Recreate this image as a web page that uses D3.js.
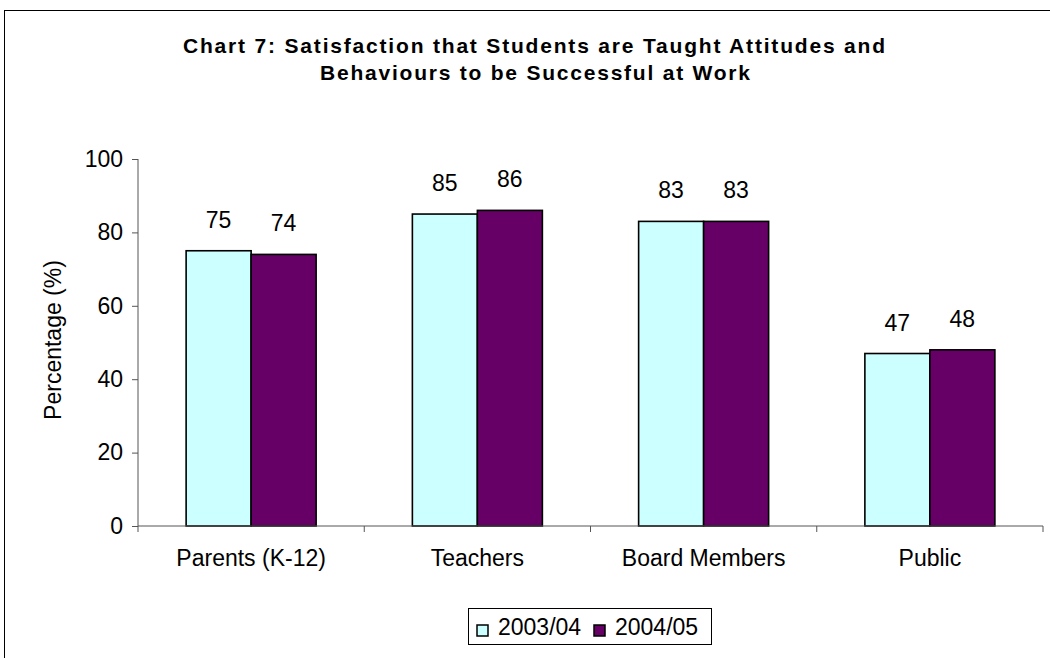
<!DOCTYPE html>
<html>
<head>
<meta charset="utf-8">
<script src="https://cdn.jsdelivr.net/npm/d3@7"></script>
<style>
  body { margin: 0; background: #fff; }
  svg { display: block; font-family: "Liberation Sans", Arial, sans-serif; }
</style>
</head>
<body>
<svg id="chart" width="1050" height="658"></svg>
<script>
const categories = ["Parents (K-12)", "Teachers", "Board Members", "Public"];
const seriesNames = ["2003/04", "2004/05"];
const values2003 = [75, 85, 83, 47];
const values2004 = [74, 86, 83, 48];
const yTicks = [0, 20, 40, 60, 80, 100];
const colors = ["#CCFFFF", "#660066"];
const titleLines = [
  "Chart 7: Satisfaction that Students are Taught Attitudes and",
  "Behaviours to be Successful at Work"
];

const series = [values2003, values2004];
const svg = d3.select("#chart");
const FS = 23;

// outer frame
svg.append("rect")
  .attr("x", 4.5).attr("y", 10.5)
  .attr("width", 1100).attr("height", 700)
  .attr("fill", "none").attr("stroke", "#000").attr("stroke-width", 1);

const plot = { left: 138, right: 1043, top: 159, bottom: 526 };

const x0 = d3.scaleBand().domain(categories).range([plot.left, plot.right]);
const x1 = d3.scaleBand().domain(seriesNames).range([0, 130]);
const y = d3.scaleLinear().domain([0, 100]).range([plot.bottom, plot.top]);

// title, spaced out to the chart's title width
const titleLayout = [
  { x: 183, y: 53, len: 702 },
  { x: 320, y: 80, len: 430 }
];
svg.append("g").selectAll("text").data(titleLines).join("text")
  .attr("x", (d, i) => titleLayout[i].x)
  .attr("y", (d, i) => titleLayout[i].y)
  .attr("textLength", (d, i) => titleLayout[i].len)
  .attr("lengthAdjust", "spacing")
  .attr("font-weight", "bold").attr("font-size", 21)
  .text(d => d);

// bars
const groups = svg.append("g").selectAll("g").data(categories).join("g")
  .attr("transform", d => `translate(${x0(d) + (x0.bandwidth() - 130) / 2},0)`);

const cells = (d, i) => seriesNames.map((s, j) => ({ s, j, v: series[j][i] }));

groups.selectAll("rect").data(cells).join("rect")
  .attr("x", d => x1(d.s))
  .attr("y", d => y(d.v))
  .attr("width", x1.bandwidth())
  .attr("height", d => y(0) - y(d.v))
  .attr("fill", d => colors[d.j])
  .attr("stroke", "#000").attr("stroke-width", 1.6);

groups.selectAll("text.val").data(cells).join("text").attr("class", "val")
  .attr("x", d => x1(d.s) + x1.bandwidth() / 2)
  .attr("y", d => y(d.v) - 23)
  .attr("text-anchor", "middle").attr("font-size", FS)
  .text(d => d.v);

// y axis
const yAxis = d3.axisLeft(y).tickValues(yTicks).tickSize(6).tickPadding(9);
const gy = svg.append("g").attr("transform", `translate(${plot.left},0)`).call(yAxis);
gy.select(".domain").attr("stroke", "#555").attr("d", `M0,${plot.bottom}V${plot.top}`);
gy.selectAll(".tick line").attr("stroke", "#555");
gy.selectAll(".tick text").attr("font-size", FS).attr("fill", "#000")
  .attr("font-family", "Liberation Sans, Arial, sans-serif");

// x axis
const gx = svg.append("g").attr("transform", `translate(0,${plot.bottom})`);
gx.append("line").attr("x1", plot.left).attr("x2", plot.right).attr("stroke", "#555");
const bounds = categories.map(d => x0(d)).concat([plot.right]);
gx.selectAll("line.tick").data(bounds).join("line").attr("class", "tick")
  .attr("x1", d => d).attr("x2", d => d)
  .attr("y1", 0).attr("y2", 6).attr("stroke", "#555");
gx.selectAll("text").data(categories).join("text")
  .attr("x", d => x0(d) + x0.bandwidth() / 2)
  .attr("y", 40)
  .attr("text-anchor", "middle").attr("font-size", FS)
  .text(d => d);

// y axis title
svg.append("text")
  .attr("transform", "translate(61,340) rotate(-90)")
  .attr("text-anchor", "middle").attr("font-size", FS)
  .text("Percentage (%)");

// legend
const legend = svg.append("g");
legend.append("rect").attr("x", 468.5).attr("y", 608.5).attr("width", 243).attr("height", 36)
  .attr("fill", "#fff").attr("stroke", "#000").attr("stroke-width", 1);
const items = legend.selectAll("g").data(seriesNames).join("g")
  .attr("transform", (d, i) => `translate(${477 + i * 117},625)`);
items.append("rect").attr("width", 11).attr("height", 11)
  .attr("fill", (d, i) => colors[i]).attr("stroke", "#000").attr("stroke-width", 1.5);
items.append("text").attr("x", 21).attr("y", 10).attr("font-size", FS).text(d => d);
</script>
</body>
</html>
